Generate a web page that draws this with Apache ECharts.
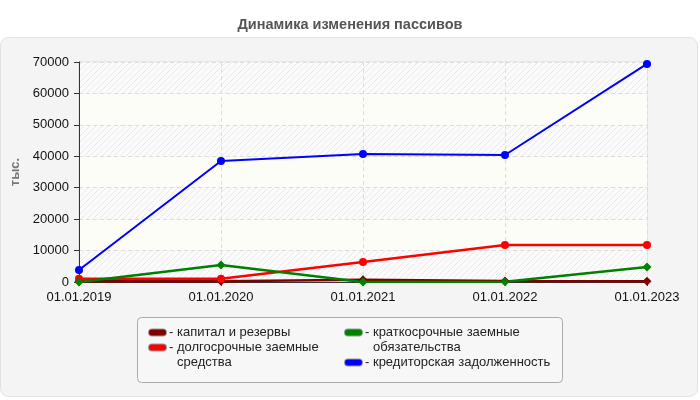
<!DOCTYPE html>
<html>
<head>
<meta charset="utf-8">
<script src="https://cdn.jsdelivr.net/npm/echarts@6/dist/echarts.min.js"></script>
<style>
  html, body { margin: 0; padding: 0; background: #fff; }
  #chart { width: 700px; height: 400px; }
</style>
</head>
<body>
<div id="chart"></div>
<script>
  const categories = ['01.01.2019', '01.01.2020', '01.01.2021', '01.01.2022', '01.01.2023']
  const capital = [200, 200, 700, 300, 200]
  const longTerm = [1000, 1000, 6400, 11800, 11800]
  const shortTerm = [0, 5400, 0, 100, 4800]
  const payables = [3800, 38500, 40700, 40400, 69400]
  const seriesNames = ['капитал и резервы', 'долгосрочные заемные средства', 'краткосрочные заемные обязательства', 'кредиторская задолженность']
  const colors = ['#800000', '#ff0000', '#008000', '#0000ff']

  // hatched pattern for every other band of the plot background
  function hatch() {
    const c = document.createElement('canvas')
    c.width = 6
    c.height = 6
    const ctx = c.getContext('2d')
    ctx.fillStyle = '#fbfbfb'
    ctx.fillRect(0, 0, 6, 6)
    ctx.strokeStyle = '#eaeaea'
    ctx.lineWidth = 1
    ctx.beginPath()
    ctx.moveTo(0, 6); ctx.lineTo(6, 0)
    ctx.moveTo(-1, 1); ctx.lineTo(1, -1)
    ctx.moveTo(5, 7); ctx.lineTo(7, 5)
    ctx.stroke()
    return { image: c, repeat: 'repeat' }
  }

  const font = '"Liberation Sans", Arial, sans-serif'

  function legendRich() {
    const rich = { t: { fontSize: 13, color: '#222', lineHeight: 15, fontFamily: font, padding: [0, 0, 0, 3] } }
    colors.forEach((c, i) => {
      rich['i' + i] = { width: 17, height: 6, lineHeight: 15, backgroundColor: c, borderColor: '#999', borderWidth: 1, borderRadius: 3 }
    })
    rich.p = { fontSize: 13, color: '#222', lineHeight: 15, fontFamily: font, padding: [0, 0, 0, 28] }
    return rich
  }
  const legendText = {
    'капитал и резервы': '{i0|}{t|- капитал и резервы}',
    'долгосрочные заемные средства': '{i1|}{t|- долгосрочные заемные}\n{p|средства}',
    'краткосрочные заемные обязательства': '{i2|}{t|- краткосрочные заемные}\n{p|обязательства}',
    'кредиторская задолженность': '{i3|}{t|- кредиторская задолженность}'
  }

  const chart = echarts.init(document.getElementById('chart'))
  const symbols = ['diamond', 'circle', 'diamond', 'circle']
  const dataList = [capital, longTerm, shortTerm, payables]

  chart.setOption({
    animation: false,
    color: colors,
    title: {
      text: 'Динамика изменения пассивов',
      left: 'center',
      top: 12,
      textStyle: { fontSize: 14.5, fontWeight: 'bold', color: '#555', fontFamily: font }
    },
    graphic: [
      {
        type: 'rect',
        shape: { x: 0.5, y: 37.5, width: 697, height: 359, r: 8 },
        style: { fill: '#f4f4f4', stroke: '#e2e2e2', lineWidth: 1 },
        z: -10
      },
      {
        type: 'rect',
        shape: { x: 137.5, y: 317.5, width: 425, height: 65, r: 4 },
        style: { fill: '#f7f7f7', stroke: '#aaa', lineWidth: 1 },
        z: -5
      }
    ],
    legend: [
      {
        orient: 'vertical',
        left: 138,
        top: 320,
        itemWidth: 0,
        itemHeight: 0,
        itemGap: 0,
        selectedMode: false,
        data: [seriesNames[0], seriesNames[1]],
        formatter: name => legendText[name],
        textStyle: { lineHeight: 15, rich: legendRich() }
      },
      {
        orient: 'vertical',
        left: 334,
        top: 320,
        itemWidth: 0,
        itemHeight: 0,
        itemGap: 0,
        selectedMode: false,
        data: [seriesNames[2], seriesNames[3]],
        formatter: name => legendText[name],
        textStyle: { lineHeight: 15, rich: legendRich() }
      }
    ],
    grid: {
      left: 79,
      right: 53,
      top: 62,
      bottom: 118,
      show: true,
      borderColor: '#ddd',
      borderWidth: 1
    },
    xAxis: {
      type: 'category',
      boundaryGap: false,
      data: categories,
      axisLine: { lineStyle: { color: '#333', width: 1 } },
      axisTick: { show: true, length: 4, lineStyle: { color: '#333' } },
      axisLabel: { color: '#111', fontSize: 13, margin: 9, fontFamily: font },
      splitLine: { show: true, lineStyle: { color: '#ddd', type: [4, 3] } }
    },
    yAxis: {
      type: 'value',
      min: 0,
      max: 70000,
      interval: 10000,
      name: 'тыс.',
      nameLocation: 'middle',
      nameGap: 46,
      nameTextStyle: { color: '#777', fontWeight: 'bold', fontSize: 13, fontFamily: font },
      axisLine: { show: true, lineStyle: { color: '#333', width: 1 } },
      axisTick: { show: true, length: 5, lineStyle: { color: '#333' } },
      axisLabel: { color: '#111', fontSize: 13, margin: 10, fontFamily: font, formatter: v => String(v) },
      splitLine: { show: true, lineStyle: { color: '#ddd', type: [4, 3] } },
      splitArea: { show: true, areaStyle: { color: [hatch(), '#fcfdf6'] } }
    },
    series: seriesNames.map((name, i) => ({
      name: name,
      type: 'line',
      data: dataList[i],
      symbol: symbols[i],
      symbolSize: i === 2 || i === 0 ? 9 : 8,
      showAllSymbol: true,
      lineStyle: { width: i === 3 ? 2 : 2.5, color: colors[i] },
      itemStyle: { color: colors[i] }
    }))
  })
</script>
</body>
</html>
